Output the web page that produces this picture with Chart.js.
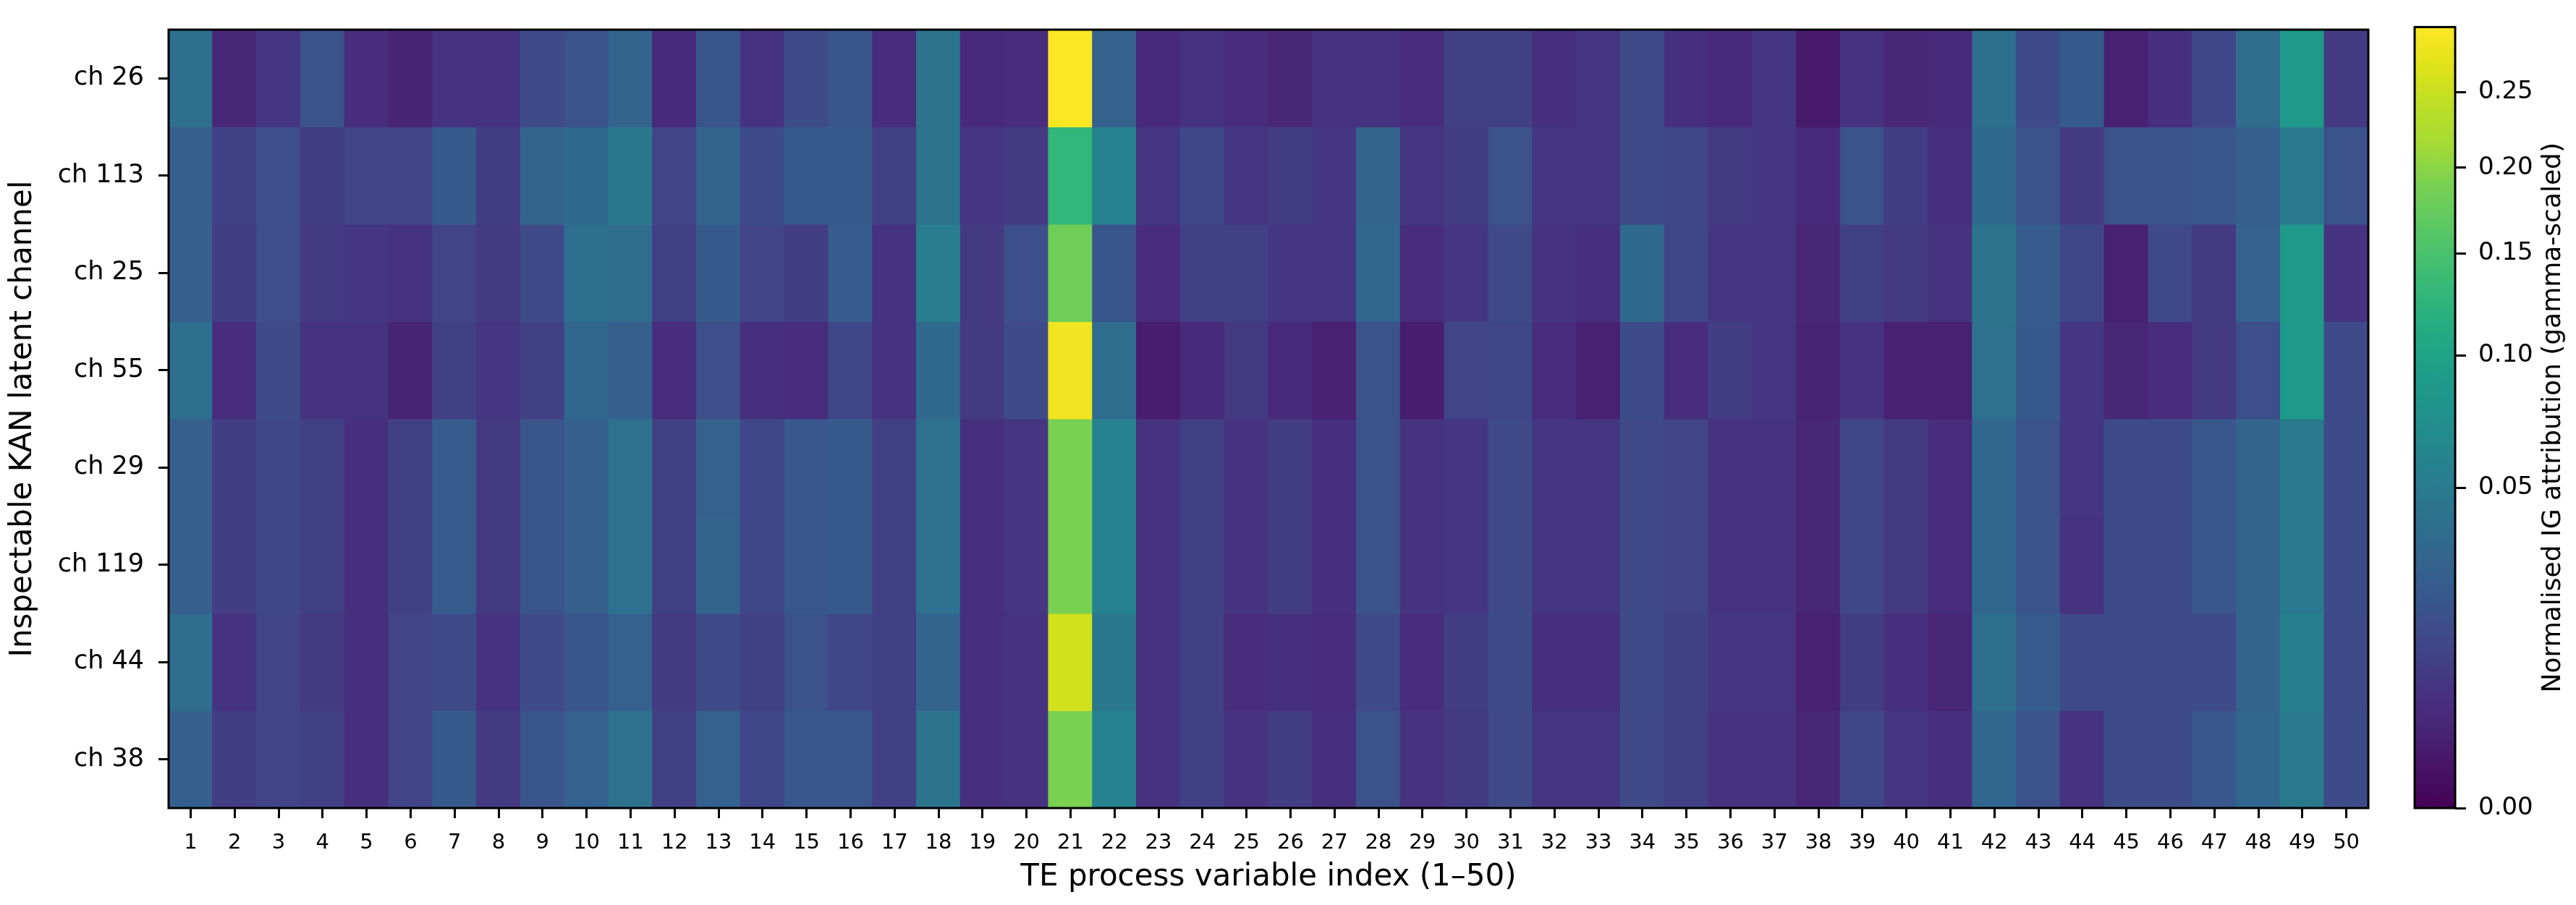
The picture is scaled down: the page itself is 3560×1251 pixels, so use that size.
<!DOCTYPE html>
<html>
<head>
<meta charset="utf-8">
<script src="https://cdn.jsdelivr.net/npm/chart.js@4.4.1/dist/chart.umd.min.js"></script>
<style>
  html, body { margin: 0; padding: 0; background: #ffffff; }
  #wrap { position: relative; width: 3560px; height: 1251px; }
  #mainBox { position: absolute; left: 0; top: 0; width: 3560px; height: 1251px; }
  #cbBox { position: absolute; left: 3300px; top: 0; width: 260px; height: 1251px; }
</style>
</head>
<body>
<div id="wrap">
  <div id="mainBox"><canvas id="main"></canvas></div>
  <div id="cbBox"><canvas id="cbar"></canvas></div>
</div>
<script>
// ---------------- data ----------------
const colLabels = ['1','2','3','4','5','6','7','8','9','10','11','12','13','14','15','16','17','18','19','20',
  '21','22','23','24','25','26','27','28','29','30','31','32','33','34','35','36','37','38','39','40',
  '41','42','43','44','45','46','47','48','49','50'];
const rowLabels = ['ch 26','ch 113','ch 25','ch 55','ch 29','ch 119','ch 44','ch 38'];

const valsCh26 = [0.0385,0.0036,0.0076,0.0186,0.0050,0.0030,0.0067,0.0067,0.0144,0.0186,
  0.0304,0.0043,0.0201,0.0067,0.0157,0.0201,0.0050,0.0429,0.0043,0.0050,
  0.2970,0.0285,0.0043,0.0067,0.0050,0.0036,0.0067,0.0067,0.0050,0.0107,
  0.0107,0.0058,0.0076,0.0157,0.0058,0.0043,0.0076,0.0015,0.0067,0.0036,
  0.0043,0.0385,0.0157,0.0233,0.0024,0.0058,0.0131,0.0364,0.0866,0.0086];
const valsCh113 = [0.0267,0.0107,0.0171,0.0096,0.0119,0.0119,0.0233,0.0096,0.0304,0.0343,
  0.0475,0.0119,0.0304,0.0157,0.0233,0.0233,0.0107,0.0429,0.0076,0.0086,
  0.1294,0.0575,0.0076,0.0131,0.0076,0.0096,0.0076,0.0304,0.0076,0.0096,
  0.0186,0.0076,0.0076,0.0157,0.0131,0.0086,0.0076,0.0043,0.0186,0.0096,
  0.0058,0.0343,0.0186,0.0086,0.0186,0.0186,0.0217,0.0267,0.0499,0.0186];
const valsCh25 = [0.0267,0.0096,0.0171,0.0086,0.0076,0.0067,0.0119,0.0086,0.0144,0.0385,
  0.0364,0.0107,0.0233,0.0119,0.0096,0.0250,0.0067,0.0524,0.0086,0.0171,
  0.1807,0.0201,0.0050,0.0107,0.0107,0.0076,0.0076,0.0323,0.0050,0.0076,
  0.0144,0.0067,0.0058,0.0343,0.0131,0.0076,0.0076,0.0036,0.0107,0.0086,
  0.0067,0.0429,0.0250,0.0131,0.0024,0.0144,0.0086,0.0285,0.0866,0.0067];
const valsCh55 = [0.0385,0.0050,0.0157,0.0067,0.0067,0.0030,0.0107,0.0076,0.0107,0.0323,
  0.0267,0.0050,0.0171,0.0058,0.0050,0.0131,0.0067,0.0343,0.0086,0.0144,
  0.2852,0.0364,0.0019,0.0043,0.0086,0.0043,0.0024,0.0186,0.0019,0.0119,
  0.0131,0.0050,0.0024,0.0157,0.0050,0.0096,0.0076,0.0030,0.0067,0.0024,
  0.0024,0.0407,0.0233,0.0076,0.0036,0.0050,0.0086,0.0171,0.0866,0.0144];
const valsCh29 = [0.0267,0.0096,0.0131,0.0107,0.0058,0.0107,0.0250,0.0086,0.0201,0.0267,
  0.0407,0.0107,0.0285,0.0131,0.0217,0.0233,0.0107,0.0407,0.0058,0.0076,
  0.1901,0.0575,0.0067,0.0107,0.0067,0.0096,0.0058,0.0186,0.0067,0.0076,
  0.0144,0.0076,0.0076,0.0144,0.0119,0.0067,0.0067,0.0036,0.0131,0.0086,
  0.0050,0.0323,0.0186,0.0076,0.0157,0.0157,0.0217,0.0304,0.0499,0.0157];
const valsCh119 = [0.0267,0.0096,0.0131,0.0107,0.0058,0.0107,0.0250,0.0086,0.0201,0.0267,
  0.0407,0.0107,0.0304,0.0131,0.0217,0.0233,0.0107,0.0407,0.0058,0.0076,
  0.1901,0.0575,0.0067,0.0107,0.0067,0.0096,0.0058,0.0186,0.0067,0.0076,
  0.0144,0.0076,0.0076,0.0144,0.0119,0.0067,0.0067,0.0036,0.0131,0.0086,
  0.0050,0.0323,0.0186,0.0067,0.0157,0.0157,0.0217,0.0304,0.0499,0.0157];
const valsCh44 = [0.0364,0.0067,0.0119,0.0086,0.0058,0.0119,0.0144,0.0067,0.0144,0.0201,
  0.0285,0.0086,0.0157,0.0107,0.0186,0.0131,0.0107,0.0304,0.0058,0.0067,
  0.2569,0.0475,0.0067,0.0107,0.0050,0.0058,0.0050,0.0144,0.0050,0.0096,
  0.0157,0.0058,0.0058,0.0157,0.0107,0.0076,0.0076,0.0024,0.0096,0.0058,
  0.0036,0.0385,0.0250,0.0144,0.0144,0.0144,0.0144,0.0304,0.0549,0.0144];
const valsCh38 = [0.0267,0.0096,0.0119,0.0107,0.0058,0.0119,0.0233,0.0086,0.0201,0.0285,
  0.0407,0.0107,0.0285,0.0131,0.0217,0.0217,0.0107,0.0429,0.0058,0.0067,
  0.1901,0.0575,0.0067,0.0107,0.0067,0.0096,0.0058,0.0186,0.0067,0.0086,
  0.0144,0.0076,0.0076,0.0144,0.0107,0.0067,0.0067,0.0036,0.0131,0.0076,
  0.0058,0.0323,0.0186,0.0067,0.0157,0.0157,0.0217,0.0323,0.0499,0.0157];

const rowValues = [valsCh26, valsCh113, valsCh25, valsCh55, valsCh29, valsCh119, valsCh44, valsCh38];

const cbTickValues = [0.00, 0.05, 0.10, 0.15, 0.20, 0.25];
const VMIN = 0.0;
const VMAX = 0.2975;
const GAMMA = 0.5;

// ---------------- colour map (viridis) ----------------
const VIRIDIS = ['#440154','#471365','#482475','#46337f','#414487','#3b528b','#355f8d','#2f6c8e',
  '#2a788e','#25848e','#21918c','#1e9b8a','#22a884','#2fb47c','#44bf70','#5ec962','#7ad151',
  '#a5db36','#bddf26','#dfe318','#fde725'];
const VIR_RGB = VIRIDIS.map(h => [parseInt(h.slice(1,3),16), parseInt(h.slice(3,5),16), parseInt(h.slice(5,7),16)]);
function viridis(t) {
  t = Math.min(1, Math.max(0, t));
  const n = VIR_RGB.length - 1;
  const p = t * n;
  const i = Math.min(n - 1, Math.floor(p));
  const f = p - i;
  const a = VIR_RGB[i], b = VIR_RGB[i + 1];
  const c = a.map((x, k) => Math.round(x + (b[k] - x) * f));
  return 'rgb(' + c[0] + ',' + c[1] + ',' + c[2] + ')';
}
function norm(v) {
  const t = Math.max(0, (v - VMIN) / (VMAX - VMIN));
  return Math.pow(t, GAMMA);
}

// ---------------- power-norm scale for the colour bar ----------------
class PowerScale extends Chart.LinearScale {
  getPixelForValue(value) {
    const t = Math.max(0, (value - this.min) / (this.max - this.min));
    return this.getPixelForDecimal(Math.pow(t, GAMMA));
  }
  getValueForPixel(pixel) {
    const d = this.getDecimalForPixel(pixel);
    return this.min + Math.pow(Math.max(0, d), 1 / GAMMA) * (this.max - this.min);
  }
}
PowerScale.id = 'power';
PowerScale.defaults = Chart.LinearScale.defaults;
Chart.register(PowerScale);

const FONT = 'DejaVu Sans';
Chart.defaults.font.family = FONT;
Chart.defaults.color = '#000';

const frame = {
  id: 'frame',
  afterDraw(chart) {
    const a = chart.chartArea, c = chart.ctx;
    c.save();
    c.strokeStyle = '#000';
    c.lineWidth = 3;
    c.strokeRect(a.left, a.top, a.right - a.left, a.bottom - a.top);
    c.restore();
  }
};

// ---------------- main heatmap ----------------
const datasets = rowValues.map((vals, r) => ({
  label: rowLabels[r],
  data: vals.map((v, j) => ({ x: colLabels[j], y: 1, v: v })),
  backgroundColor: ctx => viridis(norm(ctx.raw.v)),
  borderWidth: 0,
  inflateAmount: 0.6,
  categoryPercentage: 1.0,
  barPercentage: 1.0
}));

new Chart(document.getElementById('main'), {
  type: 'bar',
  data: { labels: colLabels, datasets: datasets },
  options: {
    responsive: true,
    maintainAspectRatio: false,
    animation: false,
    devicePixelRatio: 1,
    layout: { padding: { left: 0, top: 15, right: 287, bottom: 0 } },
    plugins: { legend: { display: false }, tooltip: { enabled: false } },
    scales: {
      x: {
        type: 'category',
        stacked: true,
        offset: true,
        afterFit: s => { s.height = 134; },
        border: { display: false },
        grid: { display: true, offset: false, drawOnChartArea: false, drawTicks: true,
                tickLength: 14, tickWidth: 3, tickColor: '#000' },
        ticks: { autoSkip: false, maxRotation: 0, minRotation: 0, padding: 17,
                 font: { size: 29 }, color: '#000' },
        title: { display: true, text: 'TE process variable index (1\u201350)',
                 font: { size: 42 }, color: '#000', padding: { top: 4, bottom: 13 } }
      },
      y: {
        type: 'linear',
        stacked: true,
        reverse: true,
        min: 0,
        max: rowLabels.length,
        afterFit: s => { s.width = 233; },
        afterBuildTicks: s => { s.ticks = rowLabels.map((_, i) => ({ value: i + 0.5 })); },
        border: { display: false },
        grid: { display: true, drawOnChartArea: false, drawTicks: true,
                tickLength: 14, tickWidth: 3, tickColor: '#000' },
        ticks: { padding: 20, font: { size: 35 }, color: '#000',
                 callback: v => rowLabels[Math.floor(v)] },
        title: { display: true, text: 'Inspectable KAN latent channel',
                 font: { size: 42 }, color: '#000', padding: { top: 7, bottom: 0 } }
      }
    }
  },
  plugins: [frame]
});

// ---------------- colour bar ----------------
const cbLabel = {
  id: 'cbLabel',
  afterDraw(chart) {
    const a = chart.chartArea, c = chart.ctx;
    c.save();
    c.translate(a.right + 136, (a.top + a.bottom) / 2);
    c.rotate(-Math.PI / 2);
    c.font = '36px "' + FONT + '"';
    c.fillStyle = '#000';
    c.textAlign = 'center';
    c.textBaseline = 'middle';
    c.fillText('Normalised IG attribution (gamma-scaled)', 0, 0);
    c.restore();
  }
};

new Chart(document.getElementById('cbar'), {
  type: 'bar',
  data: {
    labels: [''],
    datasets: [{
      data: [[VMIN, VMAX]],
      backgroundColor: ctx => {
        const ca = ctx.chart.chartArea;
        if (!ca) return VIRIDIS[0];
        const g = ctx.chart.ctx.createLinearGradient(0, ca.bottom, 0, ca.top);
        VIRIDIS.forEach((col, i) => g.addColorStop(i / (VIRIDIS.length - 1), col));
        return g;
      },
      borderWidth: 0,
      categoryPercentage: 1.0,
      barPercentage: 1.0
    }]
  },
  options: {
    responsive: true,
    maintainAspectRatio: false,
    animation: false,
    devicePixelRatio: 1,
    layout: { padding: { left: 37, top: 15, right: 0, bottom: 134 } },
    plugins: { legend: { display: false }, tooltip: { enabled: false } },
    scales: {
      x: { display: false, offset: true },
      y: {
        type: 'power',
        position: 'right',
        min: VMIN,
        max: VMAX,
        afterFit: s => { s.width = 167; },
        afterBuildTicks: s => { s.ticks = cbTickValues.map(v => ({ value: v })); },
        border: { display: false },
        grid: { display: true, drawOnChartArea: false, drawTicks: true,
                tickLength: 15, tickWidth: 3, tickColor: '#000' },
        ticks: { padding: 17, font: { size: 34 }, color: '#000',
                 callback: v => Number(v).toFixed(2) }
      }
    }
  },
  plugins: [frame, cbLabel]
});
</script>
</body>
</html>
